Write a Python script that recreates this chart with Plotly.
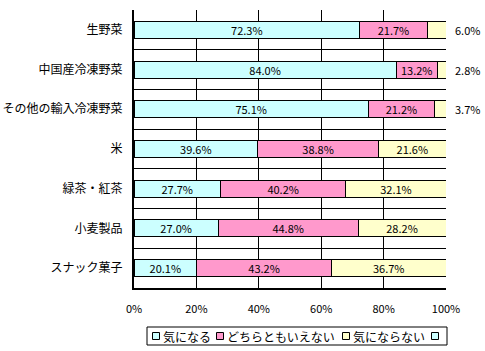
import plotly.graph_objects as go

categories = ["生野菜", "中国産冷凍野菜", "その他の輸入冷凍野菜", "米", "緑茶・紅茶", "小麦製品", "スナック菓子"]
series_names = ["気になる", "どちらともいえない", "気にならない"]
concerned = [72.3, 84.0, 75.1, 39.6, 27.7, 27.0, 20.1]
neutral = [21.7, 13.2, 21.2, 38.8, 40.2, 44.8, 43.2]
not_concerned = [6.0, 2.8, 3.7, 21.6, 32.1, 28.2, 36.7]
legend_names = ["気になる", "どちらともいえない", "気にならない", ""]
colors = ["#CCFFFF", "#FF99CC", "#FFFFCC", "#CCFFFF"]
x_ticks = [0, 20, 40, 60, 80, 100]

FONT = "Noto Sans CJK JP"
W, H = 485, 351
L, R, T, B = 134, 446, 10, 288

ypos = list(range(len(categories)))
fig = go.Figure()
outside_notes = []
for name, vals, col in zip(series_names, [concerned, neutral, not_concerned], colors):
    texts = []
    for i, v in enumerate(vals):
        if v >= 10:
            texts.append(f"{v:.1f}%")
        else:
            texts.append("")
            outside_notes.append((i, v))
    fig.add_trace(go.Bar(
        y=ypos, x=vals, orientation="h", name=name, width=0.43,
        marker=dict(color=col, line=dict(color="black", width=1)),
        text=texts, textposition="inside", insidetextanchor="middle",
        textangle=0, textfont=dict(family=FONT, size=11, color="black"),
        showlegend=False, cliponaxis=False,
    ))

for i, v in outside_notes:
    fig.add_annotation(x=100, y=i, xref="x", yref="y", text=f"{v:.1f}%",
                       xanchor="left", xshift=7, showarrow=False,
                       font=dict(family=FONT, size=11, color="black"))

# manual legend
def px(x):
    return (x - L) / (R - L)
def py(y):
    return (B - y) / (B - T)

fig.add_shape(type="rect", xref="paper", yref="paper",
              x0=px(147), x1=px(447), y0=py(345), y1=py(327),
              line=dict(color="black", width=1), fillcolor="white")
sq_x = [156, 220, 346, 435]
for nm, col, sx in zip(legend_names, colors, sq_x):
    fig.add_shape(type="rect", xref="paper", yref="paper",
                  x0=px(sx - 3.5), x1=px(sx + 3.5), y0=py(339.5), y1=py(332.5),
                  line=dict(color="black", width=1), fillcolor=col)
    if nm:
        fig.add_annotation(x=px(sx + 5), y=py(336), xref="paper", yref="paper",
                           text=nm, xanchor="left", yanchor="middle", showarrow=False,
                           font=dict(family=FONT, size=12, color="black"))

fig.update_layout(
    barmode="stack", width=W, height=H,
    margin=dict(l=L, r=W - R, t=T, b=H - B),
    paper_bgcolor="white", plot_bgcolor="white",
    font=dict(family=FONT, size=12, color="black"),
    showlegend=False,
    uniformtext=dict(minsize=11, mode="show"),
)
fig.update_xaxes(range=[0, 100], tickvals=x_ticks, ticktext=[f"{t}%" for t in x_ticks],
                 showgrid=True, gridcolor="black", gridwidth=1,
                 showline=True, linecolor="black", linewidth=2,
                 ticks="", ticklabelstandoff=10, zeroline=False, automargin=False,
                 tickfont=dict(family=FONT, size=11, color="black"))
fig.update_yaxes(range=[6.5, -0.5], tickvals=ypos, ticktext=categories,
                 showgrid=False, showline=True, linecolor="black", linewidth=2,
                 ticks="", ticklabelstandoff=7, zeroline=False, automargin=False,
                 minor=dict(tickvals=[i - 0.5 for i in range(len(categories) + 1)],
                            showgrid=True, gridcolor="black", gridwidth=1),
                 tickfont=dict(family=FONT, size=12, color="black"))

fig.write_html("out.html")
